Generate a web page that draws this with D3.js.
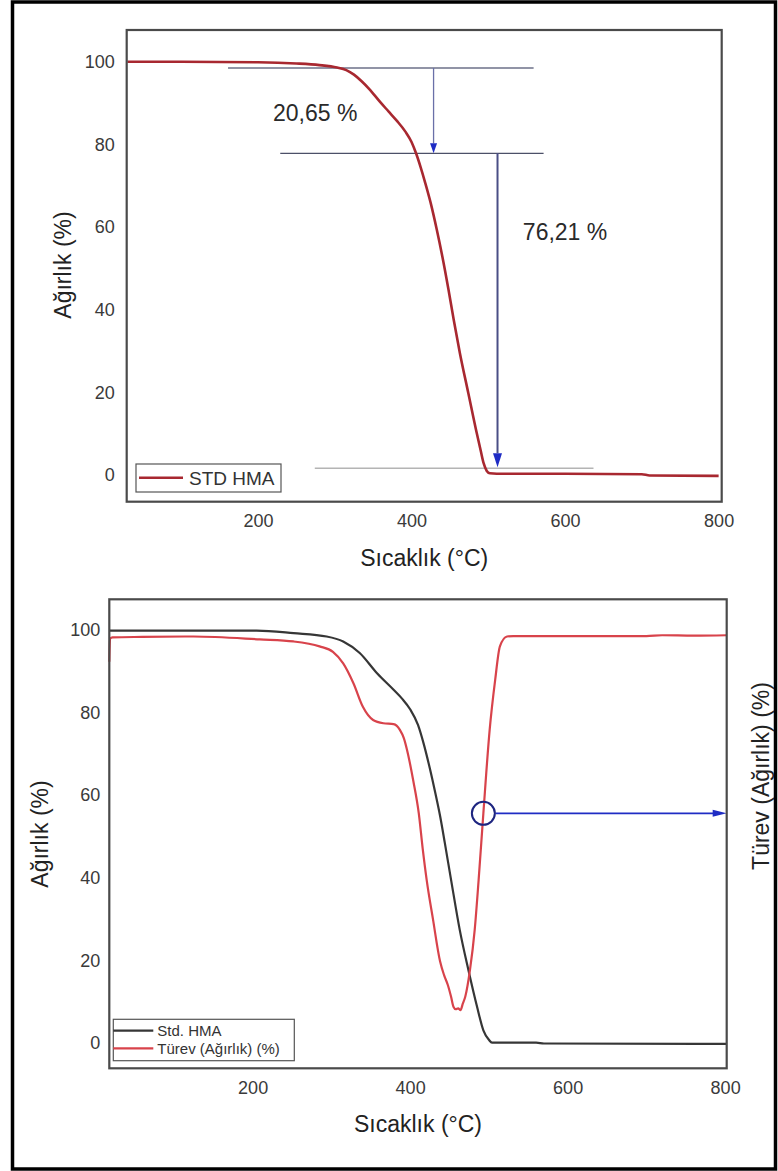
<!DOCTYPE html>
<html>
<head>
<meta charset="utf-8">
<script src="https://cdn.jsdelivr.net/npm/d3@7"></script>
<style>
  html, body { margin: 0; padding: 0; background: #fff; }
  svg { display: block; font-family: "Liberation Sans", Arial, sans-serif; }
</style>
</head>
<body>
<svg id="fig" width="778" height="1171"></svg>
<script>
// ---- tick values ----
const tempTicks = [200, 400, 600, 800];
const weightTicks = [0, 20, 40, 60, 80, 100];

// ---- upper panel: TGA curve of STD HMA ----
const stdTemp   = [30, 100, 200, 250, 280, 303, 315, 325, 335, 345, 359, 370, 381, 392, 400, 406, 412, 418, 425, 433, 440, 448, 455, 463, 474, 485, 490, 494, 498, 502, 520, 600, 700, 710, 800];
const stdWeight = [100, 100, 99.9, 99.6, 99.2, 98.6, 98.0, 96.9, 95.3, 93.4, 90.3, 88.0, 85.7, 83.1, 80.6, 77.8, 74.4, 70.6, 65.8, 59.3, 53.0, 45.0, 37.5, 29.5, 19.8, 10.1, 6.0, 2.8, 1.0, 0.45, 0.3, 0.3, 0.2, -0.1, -0.2];

// mass-loss steps marked on the upper panel
const stepLevels = [98.5, 77.85, 1.64];
const stepLabels = ["20,65 %", "76,21 %"];

// ---- lower panel: TGA and derivative ----
const hmaTemp   = [18, 100, 205, 252, 294, 315, 336, 358, 379, 390, 400, 410, 417, 425, 432, 438, 444, 452, 463, 474, 485, 493, 500, 504, 560, 570, 802];
const hmaWeight = [99.8, 99.8, 99.8, 99.2, 98.4, 97.2, 94.4, 89.5, 85.5, 83.3, 80.8, 77.0, 72.6, 66.5, 60.5, 55.0, 48.5, 39.5, 27.4, 17.7, 8.8, 3.1, 0.8, 0.1, 0.1, -0.1, -0.2];

const derivTemp  = [18, 19, 22, 60, 125, 209, 252, 285, 302, 315, 328, 340, 353, 366, 379, 387, 392, 396, 400, 404, 411, 416, 421, 429, 438, 443, 448, 452, 455, 458, 461, 464, 467, 470, 476, 482, 487, 493, 501, 508, 514, 523, 531, 700, 720, 760, 802];
const derivValue = [92.3, 97.9, 98.2, 98.3, 98.4, 97.7, 97.2, 96.0, 94.7, 91.9, 87.1, 81.4, 78.2, 77.4, 77.2, 75.8, 73.8, 71.0, 67.5, 63.5, 55.6, 47.0, 39.5, 30.0, 19.8, 16.5, 14.0, 11.2, 8.8, 8.2, 8.4, 8.0, 9.6, 11.2, 17.7, 27.4, 39.5, 55.6, 75.8, 87.9, 96.0, 98.4, 98.5, 98.5, 98.7, 98.6, 98.7];

// marked point on the derivative curve
const markTemp = 493, markValue = 55.6;

const svg = d3.select("#fig");
const FONT_TICK = 18, FONT_TITLE = 23;

function panel(cfg) {
  const g = svg.append("g");
  const x = d3.scaleLinear().domain(cfg.xDomain).range([cfg.left, cfg.right]);
  const y = d3.scaleLinear().domain(cfg.yDomain).range([cfg.bottom, cfg.top]);

  const ax = g.append("g")
    .attr("transform", `translate(0,${cfg.bottom})`)
    .call(d3.axisBottom(x).tickValues(tempTicks).tickSize(0).tickPadding(13));
  const ay = g.append("g")
    .attr("transform", `translate(${cfg.left},0)`)
    .call(d3.axisLeft(y).tickValues(weightTicks).tickSize(0).tickPadding(cfg.yPad));
  [ax, ay].forEach(a => {
    a.select(".domain").remove();
    a.selectAll("text").attr("font-size", FONT_TICK).attr("fill", "#3a3a3a")
      .attr("font-family", "Liberation Sans, Arial, sans-serif");
  });

  // x title
  g.append("text")
    .attr("x", (cfg.left + cfg.right) / 2).attr("y", cfg.bottom + 56)
    .attr("dy", "0.35em").attr("text-anchor", "middle")
    .attr("font-size", FONT_TITLE).attr("fill", "#222")
    .text("Sıcaklık (°C)");
  // y title
  g.append("text")
    .attr("transform", `translate(${cfg.yTitleX},${cfg.yTitleY}) rotate(-90)`)
    .attr("dy", "0.35em").attr("text-anchor", "middle")
    .attr("font-size", FONT_TITLE).attr("fill", "#222")
    .text("Ağırlık (%)");

  return { g, x, y };
}

function frame(p, cfg) {
  p.g.append("rect")
    .attr("x", cfg.left).attr("y", cfg.top)
    .attr("width", cfg.right - cfg.left).attr("height", cfg.bottom - cfg.top)
    .attr("fill", "none").attr("stroke", "#4a4a4a").attr("stroke-width", 2.2);
}

// ================= upper panel =================
const topCfg = {
  left: 126.7, right: 721.7, top: 30, bottom: 501.7,
  xDomain: [29, 804], yDomain: [-6.45, 107.7], yPad: 12,
  yTitleX: 63, yTitleY: 265
};
const P1 = panel(topCfg);
const x1 = P1.x, y1 = P1.y;

// step guide lines
const guide = [
  { from: 161, to: 559, level: stepLevels[0], color: "#6c7088" },
  { from: 229, to: 572, level: stepLevels[1], color: "#4c5068" },
  { from: 274, to: 637, level: stepLevels[2], color: "#b4b4b4" }
];
P1.g.selectAll("line.guide").data(guide).join("line")
  .attr("class", "guide")
  .attr("x1", d => x1(d.from)).attr("x2", d => x1(d.to))
  .attr("y1", d => y1(d.level)).attr("y2", d => y1(d.level))
  .attr("stroke", d => d.color).attr("stroke-width", 1.4);

// curve
const line1 = d3.line().x((d, i) => x1(stdTemp[i])).y(d => y1(d)).curve(d3.curveMonotoneX);
P1.g.append("path").datum(stdWeight)
  .attr("d", line1).attr("fill", "none")
  .attr("stroke", "#a82830").attr("stroke-width", 2.6);

// vertical arrows for each step
function vArrow(g, xp, yFrom, yTo, head, shaft) {
  g.append("line").attr("x1", xp).attr("x2", xp).attr("y1", yFrom).attr("y2", yTo - head.h)
    .attr("stroke", shaft).attr("stroke-width", head.sw);
  g.append("path")
    .attr("d", `M${xp - head.w},${yTo - head.h} L${xp + head.w},${yTo - head.h} L${xp},${yTo} Z`)
    .attr("fill", "#1f2cc4");
}
vArrow(P1.g, x1(428.7), y1(stepLevels[0]), y1(stepLevels[1]), { w: 3.5, h: 10, sw: 1.3 }, "#6a70a8");
vArrow(P1.g, x1(512), y1(stepLevels[1]), y1(stepLevels[2]) - 1, { w: 4.5, h: 14, sw: 2 }, "#4a4f86");

// step labels
P1.g.append("text").attr("x", x1(219.5)).attr("y", y1(87.6)).attr("dy", "0.35em")
  .attr("font-size", FONT_TITLE).attr("fill", "#2a2a2a").text(stepLabels[0]);
P1.g.append("text").attr("x", x1(545)).attr("y", y1(58.9)).attr("dy", "0.35em")
  .attr("font-size", FONT_TITLE).attr("fill", "#2a2a2a").text(stepLabels[1]);

// legend
const lg1 = P1.g.append("g");
lg1.append("rect").attr("x", 136).attr("y", 464).attr("width", 145).attr("height", 28)
  .attr("fill", "#fff").attr("stroke", "#555").attr("stroke-width", 1.2);
lg1.append("line").attr("x1", 139).attr("x2", 183).attr("y1", 477.7).attr("y2", 477.7)
  .attr("stroke", "#a82830").attr("stroke-width", 2.6);
lg1.append("text").attr("x", 189).attr("y", 478).attr("dy", "0.35em")
  .attr("font-size", 19).attr("fill", "#333").text("STD HMA");

frame(P1, topCfg);

// ================= lower panel =================
const botCfg = {
  left: 109.3, right: 726.7, top: 599.3, bottom: 1068.3,
  xDomain: [18, 802], yDomain: [-6.1, 107.4], yPad: 9,
  yTitleX: 40, yTitleY: 834
};
const P2 = panel(botCfg);
const x2 = P2.x, y2 = P2.y;

const lineHma = d3.line().x((d, i) => x2(hmaTemp[i])).y(d => y2(d)).curve(d3.curveMonotoneX);
const lineDer = d3.line().x((d, i) => x2(derivTemp[i])).y(d => y2(d)).curve(d3.curveMonotoneX);

P2.g.append("path").datum(hmaWeight).attr("d", lineHma)
  .attr("fill", "none").attr("stroke", "#363636").attr("stroke-width", 2.2);
P2.g.append("path").datum(derivValue).attr("d", lineDer)
  .attr("fill", "none").attr("stroke", "#d8434b").attr("stroke-width", 2.2);

// marker circle and arrow pointing to the right axis
const cx = x2(markTemp), cy = y2(markValue);
P2.g.append("line").attr("x1", cx + 12).attr("x2", botCfg.right - 12)
  .attr("y1", cy).attr("y2", cy).attr("stroke", "#1f2cc4").attr("stroke-width", 1.8);
P2.g.append("path")
  .attr("d", `M${botCfg.right - 14},${cy - 3.5} L${botCfg.right - 14},${cy + 3.5} L${botCfg.right},${cy} Z`)
  .attr("fill", "#1f2cc4");
P2.g.append("circle").attr("cx", cx).attr("cy", cy).attr("r", 11.5)
  .attr("fill", "none").attr("stroke", "#1e2580").attr("stroke-width", 2);

// right title
P2.g.append("text")
  .attr("transform", `translate(761,776) rotate(-90)`)
  .attr("dy", "0.35em").attr("text-anchor", "middle")
  .attr("font-size", FONT_TITLE).attr("fill", "#222")
  .text("Türev (Ağırlık) (%)");

// legend
const lg2 = P2.g.append("g");
lg2.append("rect").attr("x", 113.3).attr("y", 1019.3).attr("width", 181).attr("height", 41.4)
  .attr("fill", "#fff").attr("stroke", "#555").attr("stroke-width", 1.2);
lg2.append("line").attr("x1", 113.3).attr("x2", 153.3).attr("y1", 1030.7).attr("y2", 1030.7)
  .attr("stroke", "#363636").attr("stroke-width", 2.2);
lg2.append("line").attr("x1", 113.3).attr("x2", 153.3).attr("y1", 1048.3).attr("y2", 1048.3)
  .attr("stroke", "#d8434b").attr("stroke-width", 2.2);
lg2.append("text").attr("x", 157.3).attr("y", 1030.7).attr("dy", "0.35em")
  .attr("font-size", 15).attr("fill", "#333").text("Std. HMA");
lg2.append("text").attr("x", 157.3).attr("y", 1048.3).attr("dy", "0.35em")
  .attr("font-size", 15).attr("fill", "#333").text("Türev (Ağırlık) (%)");

frame(P2, botCfg);

// outer border of the figure
svg.append("rect").attr("x", 12.5).attr("y", 2).attr("width", 763).attr("height", 1167)
  .attr("fill", "none").attr("stroke", "#000").attr("stroke-width", 3.5);
</script>
</body>
</html>
